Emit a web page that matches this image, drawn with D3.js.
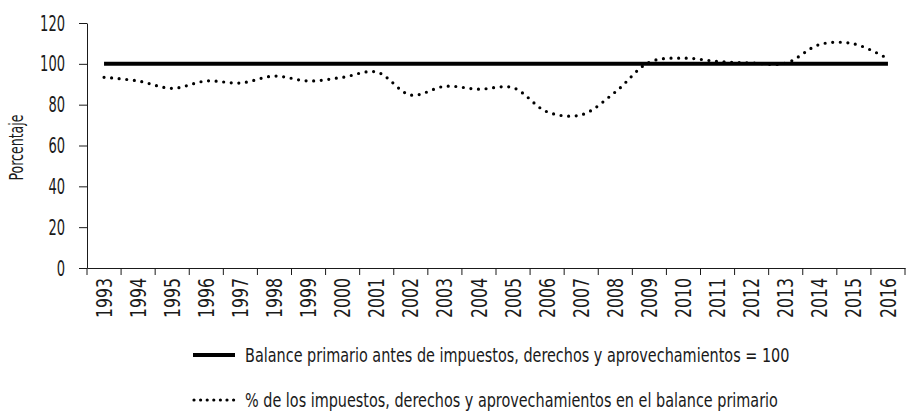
<!DOCTYPE html>
<html>
<head>
<meta charset="utf-8">
<script src="https://cdn.jsdelivr.net/npm/d3@7"></script>
<style>
  body { margin: 0; background: #fff; }
  svg text { font-family: "Liberation Sans Narrow", "DejaVu Sans Condensed", sans-serif; fill: #1a1a1a; }
</style>
</head>
<body>
<div id="chart"></div>
<script>
// years on the x axis
var years = ["1993","1994","1995","1996","1997","1998","1999","2000","2001","2002","2003","2004",
             "2005","2006","2007","2008","2009","2010","2011","2012","2013","2014","2015","2016"];

// balance primario antes de impuestos = 100
var balance = [100,100,100,100,100,100,100,100,100,100,100,100,
               100,100,100,100,100,100,100,100,100,100,100,100];

// % de los impuestos, derechos y aprovechamientos en el balance primario
var impuestos = [93.4,91.6,88.0,91.6,90.6,94.0,91.6,93.4,96.0,84.7,89.0,87.6,
                 88.3,76.5,75.0,86.2,100.8,102.8,101.2,100.4,100.3,109.5,109.8,102.5];

var yTicks = [0,20,40,60,80,100,120];

var legendLabels = [
  "Balance primario antes de impuestos, derechos y aprovechamientos = 100",
  "% de los impuestos, derechos y aprovechamientos en el balance primario"
];

var width = 907, height = 420,
    margin = {top: 23, right: 2, bottom: 152, left: 87};

var svg = d3.select("#chart").append("svg")
    .attr("width", width)
    .attr("height", height);

var x = d3.scaleBand()
    .domain(years)
    .range([margin.left, width - margin.right]);

var y = d3.scaleLinear()
    .domain([0, 120])
    .range([height - margin.bottom, margin.top]);

// y axis
var yAxis = svg.append("g")
    .attr("transform", "translate(" + margin.left + ",0)")
    .call(d3.axisLeft(y).tickValues(yTicks).tickSize(8).tickPadding(14).tickSizeOuter(0));
yAxis.selectAll("text")
    .style("font-size", "22px")
    .attr("textLength", function(d) { return String(d).length * 8.3; })
    .attr("lengthAdjust", "spacingAndGlyphs");

// x axis: labels at band centers, ticks at band edges
var xAxis = svg.append("g")
    .attr("transform", "translate(0," + y(0) + ")")
    .call(d3.axisBottom(x).tickSize(0).tickSizeOuter(0));
xAxis.selectAll("text")
    .style("font-size", "21px")
    .attr("text-anchor", "end")
    .attr("transform", "rotate(-90)")
    .attr("x", -10)
    .attr("y", 0)
    .attr("dy", "0.36em")
    .attr("textLength", 40)
    .attr("lengthAdjust", "spacingAndGlyphs");

xAxis.selectAll(".edge")
    .data(years.map(function(d) { return x(d); }).concat([x.range()[1]]))
    .enter().append("line")
    .attr("class", "edge")
    .attr("x1", function(d) { return d; })
    .attr("x2", function(d) { return d; })
    .attr("y1", 0)
    .attr("y2", 7)
    .attr("stroke", "#1a1a1a");

svg.selectAll(".domain").attr("stroke", "#1a1a1a");
svg.selectAll(".tick line").attr("stroke", "#1a1a1a");

// axis title
svg.append("text")
    .attr("transform", "translate(23," + ((margin.top + y(0)) / 2 + 2) + ") rotate(-90)")
    .attr("text-anchor", "middle")
    .style("font-size", "19px")
    .attr("textLength", 66)
    .attr("lengthAdjust", "spacingAndGlyphs")
    .text("Porcentaje");

var cx = function(d, i) { return x(years[i]) + x.bandwidth() / 2; };

var line = d3.line()
    .x(cx)
    .y(function(d) { return y(d); });

var smooth = d3.line()
    .x(cx)
    .y(function(d) { return y(d); })
    .curve(d3.curveCatmullRom.alpha(0.5));

svg.append("path")
    .datum(balance)
    .attr("d", line)
    .attr("fill", "none")
    .attr("stroke", "#000")
    .attr("stroke-width", 4);

svg.append("path")
    .datum(impuestos)
    .attr("d", smooth)
    .attr("fill", "none")
    .attr("stroke", "#000")
    .attr("stroke-width", 3.2)
    .attr("stroke-linecap", "round")
    .attr("stroke-dasharray", "0 7.6");

// legend
var legend = svg.append("g");
var ly = [355, 400];
var lw = [545, 533];

legend.append("line")
    .attr("x1", 193).attr("x2", 235)
    .attr("y1", ly[0]).attr("y2", ly[0])
    .attr("stroke", "#000").attr("stroke-width", 4);

legend.append("line")
    .attr("x1", 194).attr("x2", 234)
    .attr("y1", ly[1]).attr("y2", ly[1])
    .attr("stroke", "#000").attr("stroke-width", 3.2)
    .attr("stroke-linecap", "round")
    .attr("stroke-dasharray", "0 6.6");

// squeeze the legend text horizontally to the condensed width of the original
legend.selectAll("text")
    .data(legendLabels)
    .enter().append("text")
    .attr("dy", "0.36em")
    .style("font-size", "20px")
    .text(function(d) { return d; })
    .attr("transform", function(d, i) {
      var w = this.getComputedTextLength();
      return "translate(245," + ly[i] + ") scale(" + (lw[i] / w) + ",1)";
    });
</script>
</body>
</html>
